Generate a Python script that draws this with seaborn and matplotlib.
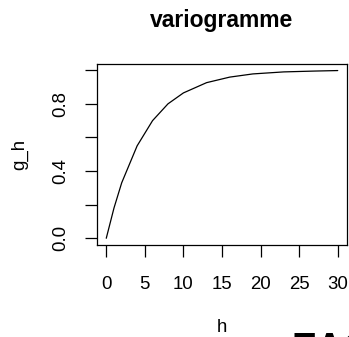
import matplotlib
matplotlib.use("Agg")
import matplotlib.pyplot as plt
import seaborn as sns
import pandas as pd

# Variogram values g(h) at the computed lags
h = [0, 1, 2, 4, 6, 8, 10, 13, 16, 19, 23, 27, 30]
g_h = [0.000, 0.180, 0.330, 0.550, 0.700, 0.800, 0.865, 0.926,
       0.959, 0.978, 0.990, 0.995, 0.998]
x_ticks = [0, 5, 10, 15, 20, 25, 30]
y_ticks = [0.0, 0.2, 0.4, 0.6, 0.8, 1.0]
y_tick_labels = ["0.0", "", "0.4", "", "0.8", ""]

sns.set_style("ticks")
plt.rcParams["font.family"] = ["Liberation Sans", "DejaVu Sans"]
plt.rcParams["text.color"] = "black"
plt.rcParams["axes.labelcolor"] = "black"

W, H = 349, 337
fig = plt.figure(figsize=(W / 100, H / 100), dpi=100)
left, right, top, bottom = 97, 347, 63.5, 245
ax = fig.add_axes([left / W, 1 - bottom / H, (right - left) / W, (bottom - top) / H])

df = pd.DataFrame({"h": h, "g_h": g_h})
sns.lineplot(data=df, x="h", y="g_h", ax=ax, color="black", linewidth=0.9)

ax.set_xlim(-1.2, 31.2)
ax.set_ylim(-0.04, 1.04)
ax.set_xticks(x_ticks)
ax.set_xticklabels([str(v) for v in x_ticks])
ax.set_yticks(y_ticks)
ax.set_yticklabels(y_tick_labels, rotation=90, va="center")

for s in ax.spines.values():
    s.set_visible(True)
    s.set_linewidth(0.9)
    s.set_color("black")

ax.tick_params(axis="both", length=8.5, width=0.9, color="black",
               labelsize=13.4, labelcolor="black")
ax.tick_params(axis="x", pad=13.5)
ax.tick_params(axis="y", pad=11.5)

ax.set_xlabel("h", fontsize=13.4, color="black")
ax.set_ylabel("g_h", fontsize=13.4, color="black")
ax.xaxis.set_label_coords(0.5, -(327 - bottom) / (bottom - top))
ax.xaxis.label.set_va("center")
ax.yaxis.set_label_coords((20 - left) / (right - left), 0.5)
ax.yaxis.label.set_va("center")

ax.set_title("variogramme", fontsize=16.5, fontweight="bold", color="black",
             y=(bottom - 26.7) / (bottom - top), pad=0)

fig.text(292 / W, 1 - 359.5 / H, "EAG", fontsize=27, fontweight="bold",
         ha="left", va="baseline", color="black")

fig.savefig("out.png", dpi=100, facecolor="white")
